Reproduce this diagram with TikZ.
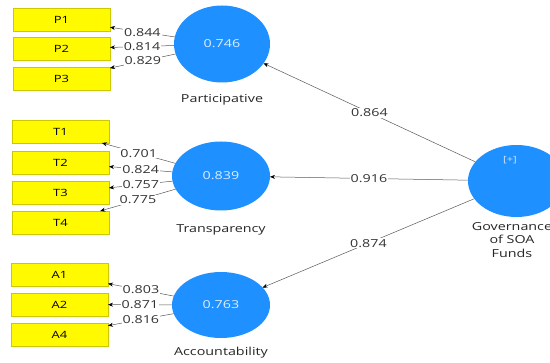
\documentclass[tikz,border=0pt]{standalone}
\usepackage{fontspec}
\setmainfont{Open Sans}[FakeStretch=1.3]
\usetikzlibrary{shapes.geometric,arrows.meta}
\definecolor{lvblue}{RGB}{30,144,255}
\definecolor{indyellow}{RGB}{255,250,0}
\definecolor{edgegray}{RGB}{90,90,90}
\tikzset{
  ind/.style={rectangle,draw=indyellow!80!black,line width=0.3pt,fill=indyellow,minimum width=97pt,minimum height=23pt,inner sep=0pt,outer sep=0pt,font=\fontsize{10}{12}\selectfont},
  lv/.style={ellipse,fill=lvblue,inner sep=0pt,outer sep=0pt,text=white!85!lvblue,font=\fontsize{11}{13}\selectfont},
  lvname/.style={font=\fontsize{11}{13}\selectfont,text=black!85,align=center,inner sep=0pt},
  conn/.style={draw=edgegray,line width=0.5pt,-{Stealth[length=5pt,width=4pt,black]}},
  wt/.style={fill=white,inner sep=1pt,font=\fontsize{11}{13}\selectfont,text=black!80}
}
\begin{document}
\begin{tikzpicture}[x=1pt,y=-1pt]
\useasboundingbox[fill=white] (0,0) rectangle (550,363);
% indicators
\node[ind] (P1) at (61.5,20) {P1};
\node[ind] (P2) at (61.5,49) {P2};
\node[ind] (P3) at (61.5,78.5) {P3};
\node[ind] (T1) at (60.5,131.5) {T1};
\node[ind] (T2) at (60.5,162.5) {T2};
\node[ind] (T3) at (60.5,193) {T3};
\node[ind] (T4) at (60.5,222.5) {T4};
\node[ind] (A1) at (59.5,274.5) {A1};
\node[ind] (A2) at (59.5,304.5) {A2};
\node[ind] (A4) at (59.5,334.5) {A4};
% latent variables
\node[lv,minimum width=96pt,minimum height=77pt] (Par) at (222,44) {0.746};
\node[lv,minimum width=98pt,minimum height=69pt] (Tra) at (221,176) {0.839};
\node[lv,minimum width=98pt,minimum height=66pt] (Acc) at (221,305) {0.763};
\node[lv,minimum width=97pt,minimum height=72pt] (Gov) at (516.5,181) {};
\node[font=\fontsize{8.5}{10}\selectfont,text=white!80!lvblue,inner sep=0pt] (plus) at (510,160) {[+]};
% names
\node[lvname] (ParN) at (222,100) {Participative};
\node[lvname] (TraN) at (221,230) {Transparency};
\node[lvname] (AccN) at (221,353) {Accountability};
\node[lvname,anchor=north] (GovN) at (512,222) {Governance\\[0.5pt]of SOA\\[0.5pt]Funds};
% outer loadings
\draw[conn] (Par) -- node[wt] {0.844} (P1);
\draw[conn] (Par) -- node[wt] {0.814} (P2);
\draw[conn] (Par) -- node[wt] {0.829} (P3);
\draw[conn] (Tra) -- node[wt] {0.701} (T1);
\draw[conn] (Tra) -- node[wt] {0.824} (T2);
\draw[conn] (Tra) -- node[wt] {0.757} (T3);
\draw[conn] (Tra) -- node[wt] {0.775} (T4);
\draw[conn] (Acc) -- node[wt] {0.803} (A1);
\draw[conn] (Acc) -- node[wt] {0.871} (A2);
\draw[conn] (Acc) -- node[wt] {0.816} (A4);
% path coefficients
\draw[conn] (Gov) -- node[wt] {0.864} (Par);
\draw[conn] (Gov) -- node[wt] {0.916} (Tra);
\draw[conn] (Gov) -- node[wt] {0.874} (Acc);
\end{tikzpicture}
\end{document}
